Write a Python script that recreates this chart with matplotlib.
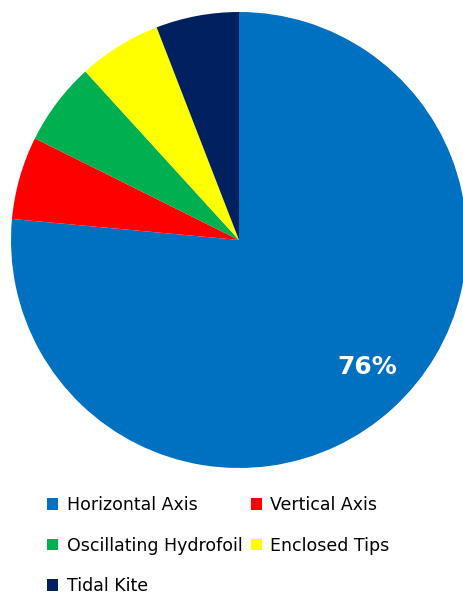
import numpy as np
import matplotlib.pyplot as plt

# Dados
labels = ['Horizontal Axis', 'Vertical Axis', 'Oscillating Hydrofoil', 'Enclosed Tips', 'Tidal Kite']
valores = [13, 1, 1, 1, 1]
cores = ['#0070C0', '#FF0000', '#00B050', '#FFFF00', '#002060']

fig = plt.figure(figsize=(4.63, 5.95), dpi=100)
ax = fig.add_axes([11/463, 127/595, 456/463, 456/595])

wedges, textos, pcts = ax.pie(valores, colors=cores, startangle=90, counterclock=False,
                              autopct=lambda p: f'{p:.0f}%' if p > 10 else '',
                              pctdistance=0.79, radius=1,
                              wedgeprops=dict(linewidth=0))
for w, t in zip(wedges, pcts):
    t.set_color('white')
    t.set_fontweight('bold')
    t.set_fontsize(18)
    # rotulo um pouco deslocado do meio da fatia, como no original
    ang = np.deg2rad((w.theta1 + w.theta2) / 2 + 3)
    t.set_position((0.79 * np.cos(ang), 0.79 * np.sin(ang)))
ax.set_xlim(-1, 1)
ax.set_ylim(-1, 1)
ax.set_aspect('equal')
ax.axis('off')

# legenda preenchida por linhas
ordem = [0, 2, 4, 1, 3]
fig.legend([wedges[i] for i in ordem], [labels[i] for i in ordem],
           ncol=2, loc='upper left', bbox_to_anchor=(47/463, 1 - 496/595),
           frameon=False, fontsize=12.5,
           borderpad=0, borderaxespad=0,
           handlelength=0.65, handleheight=0.65, handletextpad=0.5,
           labelspacing=1.3, columnspacing=0.45)

fig.savefig('out.png', dpi=100)
